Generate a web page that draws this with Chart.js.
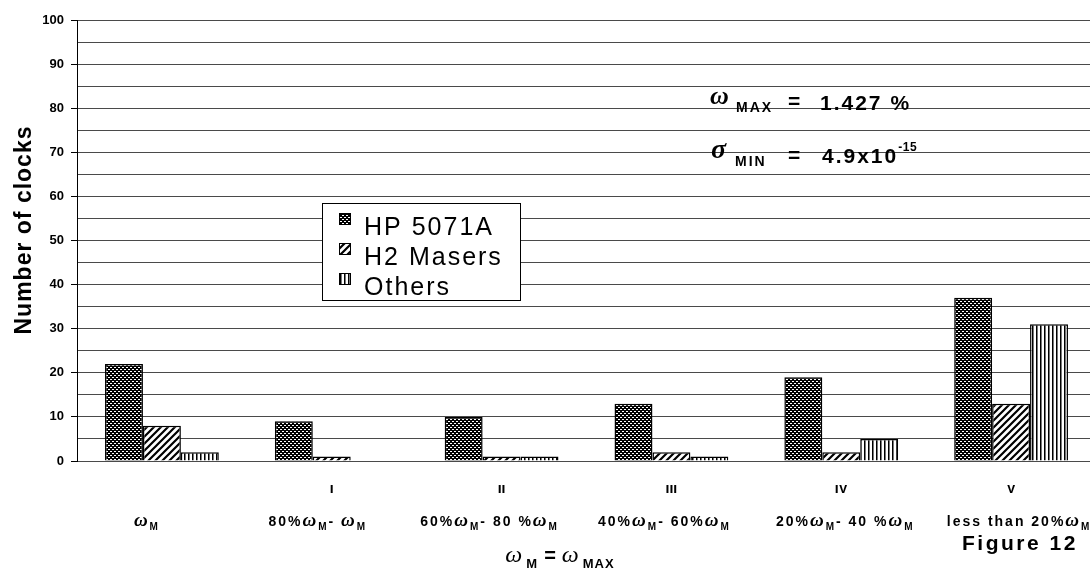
<!DOCTYPE html>
<html>
<head>
<meta charset="utf-8">
<script src="https://cdn.jsdelivr.net/npm/chart.js@4.4.1/dist/chart.umd.min.js"></script>
<style>
  html, body { margin: 0; padding: 0; background: #fff; overflow: hidden; }
  #wrap { width: 1090px; height: 576px; overflow: hidden; }
</style>
</head>
<body>
<div id="wrap"><canvas id="c" width="1096" height="576"></canvas></div>
<script>
// ---------- DATA ----------
const categories = ['wM', 'I', 'II', 'III', 'IV', 'V'];
const romanLabels = ['', 'I', 'II', 'III', 'IV', 'V'];
// rich-text labels: [text, kind] where kind: t = text, w = omega symbol, s = subscript
const rangeLabels = [
  [['ω', 'w'], ['M', 's']],
  [['80%', 't'], ['ω', 'w'], ['M', 's'], ['- ', 't'], ['ω', 'w'], ['M', 's']],
  [['60%', 't'], ['ω', 'w'], ['M', 's'], ['- 80 %', 't'], ['ω', 'w'], ['M', 's']],
  [['40%', 't'], ['ω', 'w'], ['M', 's'], ['- 60%', 't'], ['ω', 'w'], ['M', 's']],
  [['20%', 't'], ['ω', 'w'], ['M', 's'], ['- 40 %', 't'], ['ω', 'w'], ['M', 's']],
  [['less than 20%', 't'], ['ω', 'w'], ['M', 's']]
];
const seriesNames = ['HP 5071A', 'H2 Masers', 'Others'];
const hpValues     = [22, 9, 10, 13, 19, 37];
const maserValues  = [8, 1, 1, 2, 2, 13];
const otherValues  = [2, 0, 1, 1, 5, 31];
const yTicks = [0, 10, 20, 30, 40, 50, 60, 70, 80, 90, 100];

// ---------- PATTERNS ----------
function patHP() {
  const c = document.createElement('canvas'); c.width = 4; c.height = 4;
  const g = c.getContext('2d');
  g.fillStyle = '#000'; g.fillRect(0, 0, 4, 4);
  g.fillStyle = '#fff';
  g.fillRect(0, 1, 2, 1); g.fillRect(2, 3, 2, 1);
  return g.createPattern(c, 'repeat');
}
function patMaser() {
  const c = document.createElement('canvas'); c.width = 7; c.height = 7;
  const g = c.getContext('2d');
  g.fillStyle = '#fff'; g.fillRect(0, 0, 7, 7);
  g.strokeStyle = '#000'; g.lineWidth = 2.2;
  g.beginPath();
  g.moveTo(-1, 8); g.lineTo(8, -1);
  g.moveTo(-8, 8); g.lineTo(1, -1);
  g.moveTo(6, 8); g.lineTo(15, -1);
  g.stroke();
  return g.createPattern(c, 'repeat');
}
function patOther() {
  const c = document.createElement('canvas'); c.width = 4; c.height = 1;
  const g = c.getContext('2d');
  g.fillStyle = '#fff'; g.fillRect(0, 0, 4, 1);
  g.fillStyle = '#000'; g.fillRect(0, 0, 1, 1);
  g.fillStyle = '#777'; g.fillRect(1, 0, 1, 1);
  return g.createPattern(c, 'repeat');
}
const fills = [patHP(), patMaser(), patOther()];

const SANS = '"Liberation Sans", Arial, sans-serif';
const SERIF = '"Liberation Serif", "DejaVu Serif", serif';

function drawRich(ctx, segs, cx, y, fonts) {
  let total = 0;
  const widths = segs.map(([txt, k]) => { ctx.font = fonts[k].f; ctx.letterSpacing = fonts[k].ls || '0px'; const w = ctx.measureText(txt).width + (fonts[k].gap || 0); total += w; return w; });
  let x = cx - total / 2;
  segs.forEach(([txt, k], i) => {
    ctx.font = fonts[k].f; ctx.letterSpacing = fonts[k].ls || '0px';
    ctx.fillText(txt, x, y + (fonts[k].dy || 0));
    x += widths[i];
  });
  ctx.letterSpacing = '0px';
}

const decorPlugin = {
  id: 'decor',
  afterDraw(chart) {
    const ctx = chart.ctx;
    const xs = chart.scales.x;
    ctx.save();
    ctx.fillStyle = '#000';
    ctx.textAlign = 'left';
    ctx.textBaseline = 'alphabetic';

    // Y title
    ctx.save();
    ctx.translate(31, 230);
    ctx.rotate(-Math.PI / 2);
    ctx.font = 'bold 23px ' + SANS;
    ctx.letterSpacing = '1px';
    ctx.textAlign = 'center';
    ctx.fillText('Number of clocks', 0, 0);
    ctx.restore();

    // Roman numerals (top clipped like the original)
    ctx.save();
    ctx.beginPath(); ctx.rect(0, 485, 1096, 20); ctx.clip();
    ctx.font = 'bold 14px ' + SANS;
    ctx.textAlign = 'center';
    romanLabels.forEach((r, i) => { if (r) ctx.fillText(r, xs.getPixelForValue(i), 493); });
    ctx.restore();

    // range labels
    const nudges = [-15, -14, -12, -7, 4, 8];
    const lf = {
      t: { f: 'bold 14px ' + SANS, ls: '2px' },
      w: { f: 'italic bold 19px ' + SERIF, gap: 2 },
      s: { f: 'bold 10px ' + SANS, dy: 4, gap: 2 }
    };
    rangeLabels.forEach((segs, i) => {
      drawRich(ctx, segs, xs.getPixelForValue(i) + nudges[i], 526, lf);
    });

    // formula under axis
    const ff = {
      w: { f: 'italic 24px ' + SERIF, gap: 4 },
      s: { f: 'bold 13px ' + SANS, dy: 6, gap: 6, ls: '1px' },
      t: { f: 'bold 20px ' + SANS, gap: 6 }
    };
    drawRich(ctx, [['ω', 'w'], ['M', 's'], ['=', 't'], ['ω', 'w'], ['MAX', 's']], 563, 562, ff);

    // Figure 12
    ctx.font = 'bold 21px ' + SANS;
    ctx.letterSpacing = '2.5px';
    ctx.fillText('Figure 12', 962, 550);
    ctx.letterSpacing = '0px';

    // annotations
    ctx.font = 'italic bold 26px ' + SERIF;
    ctx.fillText('ω', 710, 104);
    ctx.font = 'bold 14px ' + SANS; ctx.letterSpacing = '2px';
    ctx.fillText('MAX', 736, 112);
    ctx.font = 'bold 21px ' + SANS; ctx.letterSpacing = '2px';
    ctx.fillText('=', 788, 108);
    ctx.fillText('1.427 %', 820, 110);

    ctx.letterSpacing = '0px';
    ctx.font = 'italic bold 28px ' + SERIF;
    ctx.fillText('σ', 711, 158);
    ctx.font = 'bold 14px ' + SANS; ctx.letterSpacing = '2px';
    ctx.fillText('MIN', 735, 166);
    ctx.font = 'bold 21px ' + SANS; ctx.letterSpacing = '2px';
    ctx.fillText('=', 788, 162);
    ctx.fillText('4.9x10', 822, 163);
    const w10 = ctx.measureText('4.9x10').width;
    ctx.font = 'bold 12px ' + SANS; ctx.letterSpacing = '0.5px';
    ctx.fillText('-15', 822 + w10, 151);
    ctx.letterSpacing = '0px';

    // legend box
    ctx.fillStyle = '#fff';
    ctx.fillRect(322, 203, 198, 97);
    ctx.strokeStyle = '#000'; ctx.lineWidth = 1;
    ctx.strokeRect(322.5, 203.5, 198, 97);
    chart.data.datasets.forEach((ds, i) => {
      const yb = 235 + i * 30;
      ctx.fillStyle = ds.backgroundColor;
      ctx.fillRect(339, yb - 22, 12, 12);
      ctx.strokeStyle = '#000';
      ctx.strokeRect(339.5, yb - 21.5, 11, 11);
      ctx.fillStyle = '#000';
      ctx.font = '25px ' + SANS;
      ctx.letterSpacing = '2px';
      ctx.fillText(ds.label, 364, yb);
      ctx.letterSpacing = '0px';
    });
    ctx.restore();
  }
};

const datasets = [hpValues, maserValues, otherValues].map((vals, i) => ({
  label: seriesNames[i],
  data: vals,
  backgroundColor: fills[i],
  borderColor: '#000',
  borderWidth: 1.5,
  borderSkipped: 'bottom',
  categoryPercentage: 0.67,
  barPercentage: 1.0
}));

new Chart(document.getElementById('c'), {
  type: 'bar',
  data: { labels: categories, datasets },
  options: {
    responsive: false,
    animation: false,
    devicePixelRatio: 1,
    layout: { padding: { top: 20, bottom: 115, left: 0, right: 0 } },
    plugins: { legend: { display: false }, tooltip: { enabled: false } },
    scales: {
      x: { display: false },
      y: {
        min: 0, max: 100,
        afterFit(scale) { scale.width = 77; },
        afterBuildTicks(scale) {
          const t = [];
          for (let v = 0; v <= 100; v += 5) t.push({ value: v });
          scale.ticks = t;
        },
        ticks: {
          color: '#000',
          padding: 7,
          font: { family: SANS, size: 13, weight: 'bold' },
          callback: (v) => yTicks.includes(v) ? String(v) : ''
        },
        grid: {
          color: '#4a4a4a',
          lineWidth: 1,
          tickLength: 6,
          tickColor: (c) => (c.tick && c.tick.value % 10 === 0) ? '#000' : 'rgba(0,0,0,0)'
        },
        border: { color: '#000', width: 1 }
      }
    }
  },
  plugins: [decorPlugin]
});
</script>
</body>
</html>
